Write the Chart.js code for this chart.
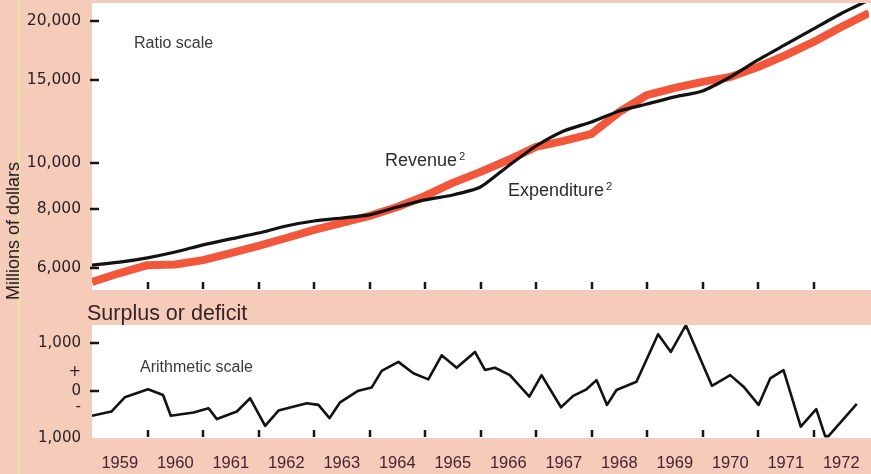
<!DOCTYPE html>
<html>
<head>
<meta charset="utf-8">
<title>Revenue, expenditure and surplus or deficit, 1959-1972</title>
<script src="https://cdn.jsdelivr.net/npm/chart.js@4.4.1/dist/chart.umd.min.js"></script>
<style>
  html, body { margin: 0; padding: 0; }
  body {
    width: 871px; height: 474px; position: relative; overflow: hidden;
    background: #f5ccb9;
    font-family: 'Liberation Sans', Arial, sans-serif;
  }
  canvas { position: absolute; left: 0; }
  #ratio-chart { top: 0; }
  #surplus-chart { top: 300px; }
  .rule { position: absolute; left: 18px; top: 0; width: 2px; height: 474px; background: #ebe39b; }
  .note { position: absolute; white-space: nowrap; line-height: 1; color: #2c2c2c; }
  .note sup { font-size: 0.62em; vertical-align: 0.55em; margin-left: 2px; }
  .units {
    position: absolute; left: 13px; top: 231px; font-size: 18px; line-height: 1;
    white-space: nowrap; color: #1e1a1a;
    transform: translate(-50%, -50%) rotate(-90deg);
  }
  .title { position: absolute; left: 87px; top: 303px; font-size: 21.5px; line-height: 1; color: #3a2226; }
</style>
</head>
<body>
<div class="rule"></div>
<canvas id="ratio-chart" width="871" height="300"></canvas>
<canvas id="surplus-chart" width="871" height="174"></canvas>
<div class="units">Millions of dollars</div>
<div class="title">Surplus or deficit</div>
<div class="note" style="left:134px; top:35px; font-size:16px; color:#3a3a3a;">Ratio scale</div>
<div class="note" style="left:385px; top:151px; font-size:18px;">Revenue<sup>2</sup></div>
<div class="note" style="left:508px; top:181px; font-size:18px;">Expenditure<sup>2</sup></div>
<div class="note" style="left:140px; top:359px; font-size:16px; color:#3a3a3a;">Arithmetic scale</div>

<script>
// ---- data (millions of dollars) ----
var ratioDates = [1959, 1959.5, 1960, 1960.5, 1961, 1961.5, 1962, 1962.5, 1963, 1963.5,
                  1964, 1964.5, 1965, 1965.5, 1966, 1966.5, 1967, 1967.5, 1968, 1968.5,
                  1969, 1969.5, 1970, 1970.5, 1971, 1971.5, 1972, 1972.5, 1973];
var revenue = [5590, 5840, 6070, 6090, 6220, 6440, 6670, 6930, 7210, 7460,
               7720, 8060, 8510, 9070, 9570, 10140, 10810, 11130, 11520, 12820,
               13930, 14420, 14850, 15210, 15970, 16930, 18050, 19420, 20790];
var expenditure = [6070, 6160, 6290, 6470, 6700, 6900, 7100, 7350, 7530, 7640,
                   7760, 8060, 8350, 8550, 8890, 9850, 10860, 11690, 12210, 12890,
                   13330, 13800, 14210, 15210, 16530, 17830, 19230, 20740, 22150];

var surplusDates = [1959.00, 1959.35, 1959.59, 1960.01, 1960.28, 1960.42, 1960.83, 1961.10, 1961.25, 1961.61,
                    1961.85, 1962.12, 1962.36, 1962.87, 1963.08, 1963.28, 1963.47, 1963.80, 1964.04, 1964.22,
                    1964.52, 1964.79, 1965.06, 1965.30, 1965.57, 1965.90, 1966.08, 1966.26, 1966.53, 1966.88,
                    1967.10, 1967.45, 1967.67, 1967.91, 1968.09, 1968.28, 1968.45, 1968.81, 1969.20, 1969.43,
                    1969.70, 1970.17, 1970.50, 1970.74, 1971.01, 1971.22, 1971.46, 1971.77, 1972.05, 1972.21,
                    1972.27, 1972.78];
var surplus = [-530, -440, -140, 30, -90, -530, -460, -370, -600, -440,
               -160, -745, -420, -265, -300, -580, -245, 0, 70, 420,
               610, 370, 240, 750, 485, 820, 440, 485, 330, -125,
               330, -350, -110, 30, 225, -300, 15, 190, 1195, 820,
               1385, 105, 330, 85, -300, 260, 435, -760, -390, -960,
               -960, -280];

var ratioTicks = [6000, 8000, 10000, 15000, 20000];
var ratioTickLabels = ['6,000', '8,000', '10,000', '15,000', '20,000'];
var surplusTicks = [1000, 400, 0, -350, -1000];
var surplusTickLabels = ['1,000', '+', '0', '-', '1,000'];
var surplusMarkedTicks = [1000, 0];

var yearBounds = [1960, 1961, 1962, 1963, 1964, 1965, 1966, 1967, 1968, 1969, 1970, 1971, 1972];
var yearCentres = [1959.5, 1960.5, 1961.5, 1962.5, 1963.5, 1964.5, 1965.5,
                   1966.5, 1967.5, 1968.5, 1969.5, 1970.5, 1971.5, 1972.5];
var yearLabels = ['1959', '1960', '1961', '1962', '1963', '1964', '1965',
                  '1966', '1967', '1968', '1969', '1970', '1971', '1972'];

// ---- helpers ----
var INK = '#1a1414';
var LABEL = '#2f2024';

function pairs(xs, ys) {
    return xs.map(function (x, i) { return { x: x, y: ys[i] }; });
}

// keep the plot frame fixed: no extra room reserved for edge labels
function fixedBox(w, h) {
    return function (s) {
        if (w !== null) s.width = w;
        if (h !== null) s.height = h;
        s.paddingTop = 0;
        s.paddingBottom = 0;
        s.paddingLeft = 0;
        s.paddingRight = 0;
    };
}

// white plotting paper on the peach page
var plotPaper = {
    id: 'plotPaper',
    beforeDraw: function (chart) {
        var a = chart.chartArea, ctx = chart.ctx;
        ctx.save();
        ctx.fillStyle = '#ffffff';
        ctx.fillRect(a.left, a.top, chart.width - a.left, a.bottom - a.top);
        ctx.restore();
    }
};

// short year marks inside the bottom edge, dashes across the left edge
var innerTicks = {
    id: 'innerTicks',
    afterDatasetsDraw: function (chart, args, opts) {
        var a = chart.chartArea, ctx = chart.ctx;
        var xs = chart.scales.x, ys = chart.scales.y;
        ctx.save();
        ctx.strokeStyle = INK;
        ctx.lineWidth = 2.5;
        ctx.beginPath();
        yearBounds.forEach(function (v) {
            var px = Math.round(xs.getPixelForValue(v));
            ctx.moveTo(px, a.bottom - 1);
            ctx.lineTo(px, a.bottom - 8);
        });
        (opts.dashes || []).forEach(function (v) {
            var py = Math.round(ys.getPixelForValue(v));
            ctx.moveTo(a.left - 2, py);
            ctx.lineTo(a.left + 7, py);
        });
        ctx.stroke();
        ctx.restore();
    }
};

var hiddenGrid = { display: false, drawTicks: false };

// ---- top: revenue and expenditure, ratio scale ----
new Chart(document.getElementById('ratio-chart'), {
    type: 'line',
    data: {
        datasets: [
            {
                label: 'Expenditure',
                data: pairs(ratioDates, expenditure),
                borderColor: '#121212',
                borderWidth: 3.2,
                pointRadius: 0,
                tension: 0.2
            },
            {
                label: 'Revenue',
                data: pairs(ratioDates, revenue),
                borderColor: '#f2573b',
                borderWidth: 8,
                borderJoinStyle: 'round',
                pointRadius: 0,
                tension: 0
            }
        ]
    },
    options: {
        responsive: false,
        animation: false,
        devicePixelRatio: 1,
        layout: { padding: { top: 3, right: 2, bottom: 0, left: 0 } },
        plugins: {
            legend: { display: false },
            tooltip: { enabled: false },
            innerTicks: { dashes: ratioTicks }
        },
        scales: {
            x: {
                type: 'linear', min: 1959, max: 1973,
                grid: hiddenGrid,
                border: { display: false },
                ticks: { display: false },
                afterFit: fixedBox(null, 10)
            },
            y: {
                type: 'logarithmic', min: 5376, max: 21830, bounds: 'data',
                grid: hiddenGrid,
                border: { display: false },
                afterFit: fixedBox(92, null),
                afterBuildTicks: function (s) {
                    s.ticks = ratioTicks.map(function (v) { return { value: v }; });
                },
                ticks: {
                    padding: 11, color: LABEL,
                    font: { family: 'DejaVu Sans', size: 15.5 },
                    callback: function (v, i) { return ratioTickLabels[i]; }
                }
            }
        }
    },
    plugins: [plotPaper, innerTicks]
});

// ---- bottom: surplus or deficit, arithmetic scale ----
new Chart(document.getElementById('surplus-chart'), {
    type: 'line',
    data: {
        datasets: [{
            label: 'Surplus or deficit',
            data: pairs(surplusDates, surplus),
            borderColor: '#121212',
            borderWidth: 2.6,
            borderJoinStyle: 'round',
            pointRadius: 0,
            tension: 0
        }]
    },
    options: {
        responsive: false,
        animation: false,
        devicePixelRatio: 1,
        layout: { padding: { top: 25, right: 2, bottom: 0, left: 0 } },
        plugins: {
            legend: { display: false },
            tooltip: { enabled: false },
            innerTicks: { dashes: surplusMarkedTicks }
        },
        scales: {
            x: {
                type: 'linear', min: 1959, max: 1973,
                grid: hiddenGrid,
                border: { display: false },
                afterBuildTicks: function (s) {
                    s.ticks = yearCentres.map(function (v) { return { value: v }; });
                },
                afterFit: fixedBox(null, 36),
                ticks: {
                    autoSkip: false, maxRotation: 0, padding: 16,
                    color: '#4a2232',
                    font: { family: 'Liberation Sans', size: 16.5 },
                    callback: function (v, i) { return yearLabels[i]; }
                }
            },
            y: {
                type: 'linear', min: -1000, max: 1390, bounds: 'data',
                grid: hiddenGrid,
                border: { display: false },
                afterFit: fixedBox(92, null),
                afterBuildTicks: function (s) {
                    s.ticks = surplusTicks.map(function (v) { return { value: v }; });
                },
                ticks: {
                    padding: 11, color: LABEL,
                    font: { family: 'DejaVu Sans', size: 15 },
                    callback: function (v, i) { return surplusTickLabels[i]; }
                }
            }
        }
    },
    plugins: [plotPaper, innerTicks]
});
</script>
</body>
</html>
